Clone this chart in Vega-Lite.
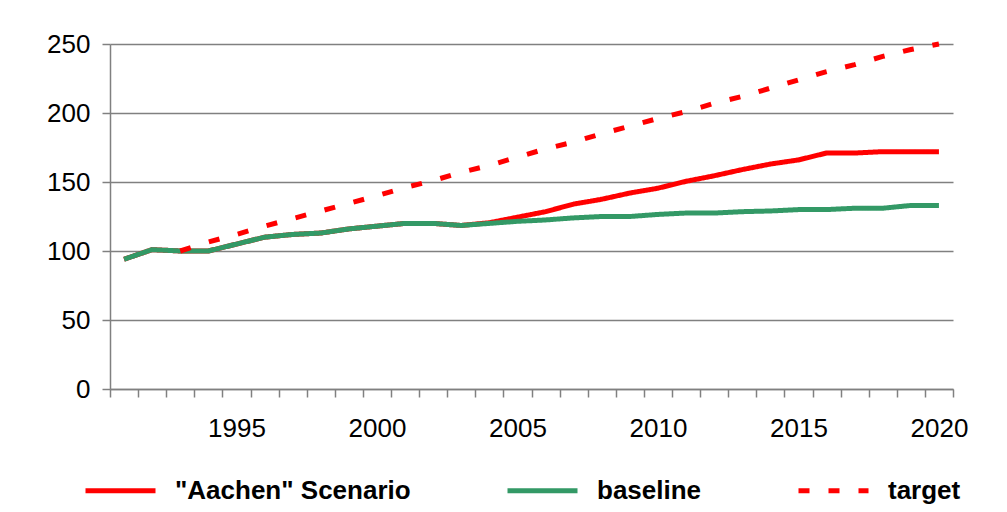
{
  "$schema": "https://vega.github.io/schema/vega-lite/v6.json",
  "autosize": {"type": "none"},
  "width": 843,
  "height": 345,
  "padding": {"left": 110, "top": 44, "right": 54, "bottom": 123},
  "background": "white",
  "config": {
    "view": {"stroke": null},
    "font": "Liberation Sans",
    "axis": {"labelFont": "Liberation Sans", "labelFontSize": 26, "labelColor": "black", "domainColor": "#808080", "domainWidth": 1.5, "tickColor": "#808080", "tickWidth": 1.5, "tickSize": 8, "title": null},
    "legend": {"labelFont": "Liberation Sans", "labelFontSize": 26, "labelFontWeight": "bold", "labelColor": "black", "labelLimit": 500}
  },
  "data": {
    "values": [
      {"year": 1991, "series": "\"Aachen\" Scenario", "value": 94},
      {"year": 1992, "series": "\"Aachen\" Scenario", "value": 101},
      {"year": 1993, "series": "\"Aachen\" Scenario", "value": 100},
      {"year": 1994, "series": "\"Aachen\" Scenario", "value": 100},
      {"year": 1995, "series": "\"Aachen\" Scenario", "value": 105},
      {"year": 1996, "series": "\"Aachen\" Scenario", "value": 110},
      {"year": 1997, "series": "\"Aachen\" Scenario", "value": 112},
      {"year": 1998, "series": "\"Aachen\" Scenario", "value": 113},
      {"year": 1999, "series": "\"Aachen\" Scenario", "value": 116},
      {"year": 2000, "series": "\"Aachen\" Scenario", "value": 118},
      {"year": 2001, "series": "\"Aachen\" Scenario", "value": 120},
      {"year": 2002, "series": "\"Aachen\" Scenario", "value": 120},
      {"year": 2003, "series": "\"Aachen\" Scenario", "value": 118.5},
      {"year": 2004, "series": "\"Aachen\" Scenario", "value": 120.5},
      {"year": 2005, "series": "\"Aachen\" Scenario", "value": 124.5},
      {"year": 2006, "series": "\"Aachen\" Scenario", "value": 128.5},
      {"year": 2007, "series": "\"Aachen\" Scenario", "value": 134},
      {"year": 2008, "series": "\"Aachen\" Scenario", "value": 137.5},
      {"year": 2009, "series": "\"Aachen\" Scenario", "value": 142},
      {"year": 2010, "series": "\"Aachen\" Scenario", "value": 145.5},
      {"year": 2011, "series": "\"Aachen\" Scenario", "value": 150.5},
      {"year": 2012, "series": "\"Aachen\" Scenario", "value": 154.5},
      {"year": 2013, "series": "\"Aachen\" Scenario", "value": 159},
      {"year": 2014, "series": "\"Aachen\" Scenario", "value": 163},
      {"year": 2015, "series": "\"Aachen\" Scenario", "value": 166},
      {"year": 2016, "series": "\"Aachen\" Scenario", "value": 171},
      {"year": 2017, "series": "\"Aachen\" Scenario", "value": 171},
      {"year": 2018, "series": "\"Aachen\" Scenario", "value": 172},
      {"year": 2019, "series": "\"Aachen\" Scenario", "value": 172},
      {"year": 2020, "series": "\"Aachen\" Scenario", "value": 172},
      {"year": 1991, "series": "baseline", "value": 94},
      {"year": 1992, "series": "baseline", "value": 101},
      {"year": 1993, "series": "baseline", "value": 100},
      {"year": 1994, "series": "baseline", "value": 100},
      {"year": 1995, "series": "baseline", "value": 105},
      {"year": 1996, "series": "baseline", "value": 110},
      {"year": 1997, "series": "baseline", "value": 112},
      {"year": 1998, "series": "baseline", "value": 113},
      {"year": 1999, "series": "baseline", "value": 116},
      {"year": 2000, "series": "baseline", "value": 118},
      {"year": 2001, "series": "baseline", "value": 120},
      {"year": 2002, "series": "baseline", "value": 120},
      {"year": 2003, "series": "baseline", "value": 118.5},
      {"year": 2004, "series": "baseline", "value": 120},
      {"year": 2005, "series": "baseline", "value": 121.5},
      {"year": 2006, "series": "baseline", "value": 122.5},
      {"year": 2007, "series": "baseline", "value": 124},
      {"year": 2008, "series": "baseline", "value": 125},
      {"year": 2009, "series": "baseline", "value": 125},
      {"year": 2010, "series": "baseline", "value": 126.5},
      {"year": 2011, "series": "baseline", "value": 127.5},
      {"year": 2012, "series": "baseline", "value": 127.5},
      {"year": 2013, "series": "baseline", "value": 128.5},
      {"year": 2014, "series": "baseline", "value": 129},
      {"year": 2015, "series": "baseline", "value": 130},
      {"year": 2016, "series": "baseline", "value": 130},
      {"year": 2017, "series": "baseline", "value": 131},
      {"year": 2018, "series": "baseline", "value": 131},
      {"year": 2019, "series": "baseline", "value": 133},
      {"year": 2020, "series": "baseline", "value": 133},
      {"year": 1993, "series": "target", "value": 100},
      {"year": 1994, "series": "target", "value": 106.5},
      {"year": 1995, "series": "target", "value": 112},
      {"year": 1996, "series": "target", "value": 118},
      {"year": 1997, "series": "target", "value": 123.5},
      {"year": 1998, "series": "target", "value": 129},
      {"year": 1999, "series": "target", "value": 134.5},
      {"year": 2000, "series": "target", "value": 140},
      {"year": 2001, "series": "target", "value": 146},
      {"year": 2002, "series": "target", "value": 151},
      {"year": 2003, "series": "target", "value": 157},
      {"year": 2004, "series": "target", "value": 162},
      {"year": 2005, "series": "target", "value": 168},
      {"year": 2006, "series": "target", "value": 174},
      {"year": 2007, "series": "target", "value": 179},
      {"year": 2008, "series": "target", "value": 185},
      {"year": 2009, "series": "target", "value": 190.5},
      {"year": 2010, "series": "target", "value": 196},
      {"year": 2011, "series": "target", "value": 201},
      {"year": 2012, "series": "target", "value": 207},
      {"year": 2013, "series": "target", "value": 212},
      {"year": 2014, "series": "target", "value": 218},
      {"year": 2015, "series": "target", "value": 224},
      {"year": 2016, "series": "target", "value": 230},
      {"year": 2017, "series": "target", "value": 235},
      {"year": 2018, "series": "target", "value": 241},
      {"year": 2019, "series": "target", "value": 246},
      {"year": 2020, "series": "target", "value": 250}
    ]
  },
  "encoding": {
    "x": {
      "field": "year", "type": "ordinal",
      "scale": {"type": "band", "paddingInner": 0, "paddingOuter": 0},
      "axis": {"tickBand": "extent", "labelAngle": 0, "labelOverlap": false, "labelPadding": 18, "grid": false,
               "labelExpr": "datum.value % 5 == 0 ? datum.label : ''"}
    },
    "y": {
      "field": "value", "type": "quantitative",
      "scale": {"domain": [0, 250], "nice": false, "zero": true},
      "axis": {"values": [0, 50, 100, 150, 200, 250], "grid": true, "gridColor": "#808080", "gridWidth": 1.5, "labelPadding": 12}
    },
    "color": {
      "field": "series", "type": "nominal",
      "scale": {"domain": ["\"Aachen\" Scenario", "baseline", "target"], "range": ["#FF0000", "#339966", "#FF0000"]},
      "legend": {"title": null, "orient": "none", "direction": "horizontal", "legendX": -27, "legendY": 409,
                 "symbolType": "stroke", "symbolSize": 4900, "symbolStrokeWidth": 5, "labelOffset": 17, "columnPadding": 86, "padding": 0}
    },
    "strokeDash": {
      "field": "series", "type": "nominal",
      "scale": {"domain": ["\"Aachen\" Scenario", "baseline", "target"], "range": [[1, 0], [1, 0], [11, 19]]},
      "legend": {"title": null, "orient": "none", "direction": "horizontal", "legendX": -27, "legendY": 409,
                 "symbolType": "stroke", "symbolSize": 4900, "symbolStrokeWidth": 5, "labelOffset": 17, "columnPadding": 86, "padding": 0}
    }
  },
  "layer": [
    {"transform": [{"filter": "datum.series == '\"Aachen\" Scenario'"}], "mark": {"type": "line", "strokeWidth": 5}},
    {"transform": [{"filter": "datum.series == 'baseline'"}], "mark": {"type": "line", "strokeWidth": 5}},
    {"transform": [{"filter": "datum.series == 'target'"}], "mark": {"type": "line", "strokeWidth": 5}}
  ]
}
